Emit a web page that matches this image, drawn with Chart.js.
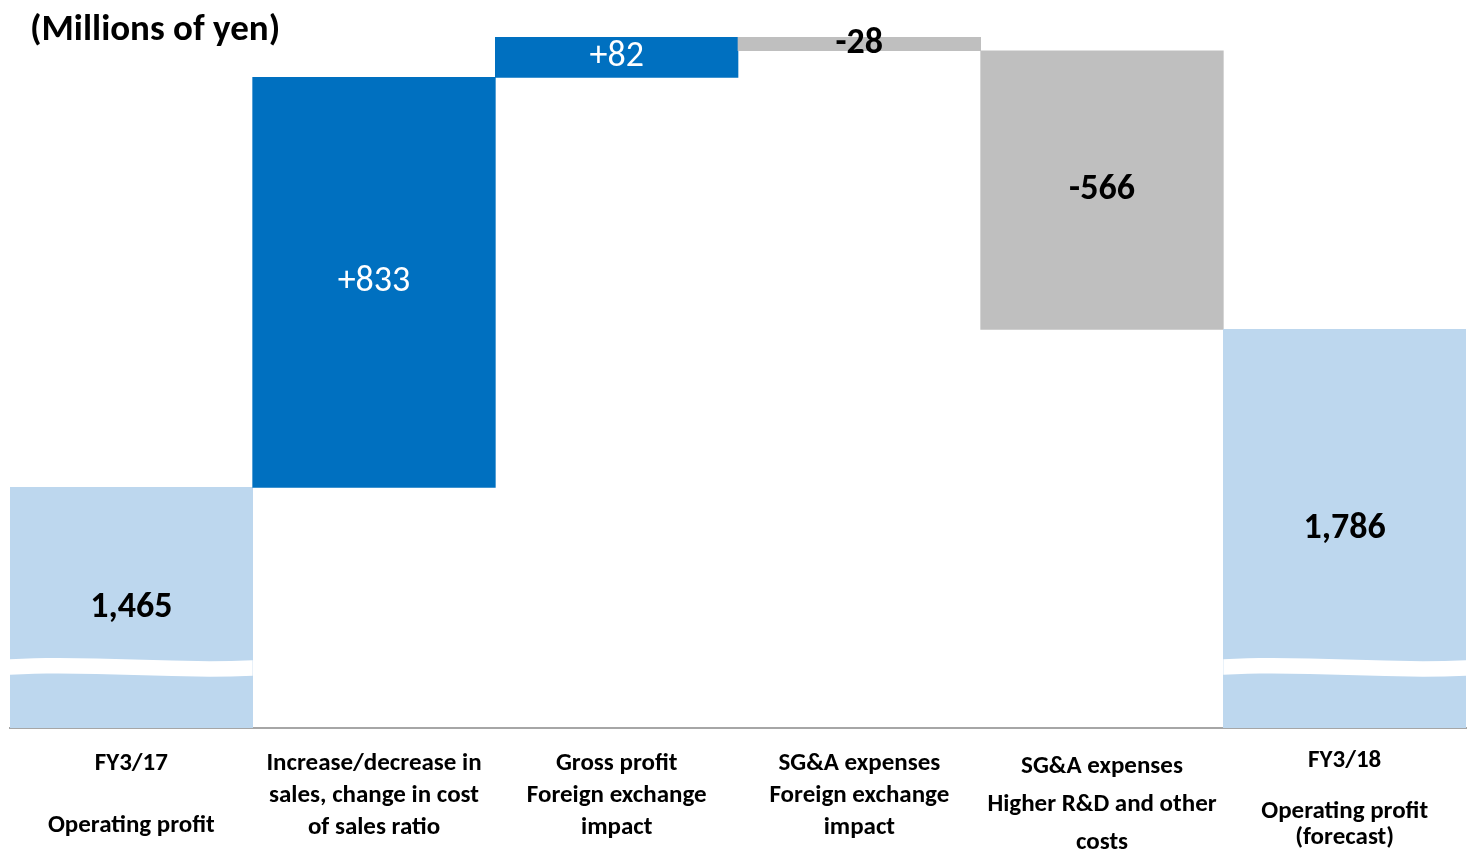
<!DOCTYPE html>
<html>
<head>
<meta charset="utf-8">
<script src="https://cdn.jsdelivr.net/npm/chart.js@4.4.0/dist/chart.umd.min.js"></script>
<style>
  body { margin: 0; background: #fff; }
  #wrap { position: relative; width: 1467px; height: 864px; }
  #unit { position: absolute; left: 30px; top: 5px; font: bold 37px Carlito, Lato, sans-serif; color: #000; }
</style>
</head>
<body>
<div id="wrap">
  <canvas id="bridgeChart"></canvas>
  <div id="unit">(Millions of yen)</div>
</div>
<script>
const FONT = 'Carlito, Lato, sans-serif';

const categories = [
  ['FY3/17', '', 'Operating profit'],
  ['Increase/decrease in', 'sales, change in cost', 'of sales ratio'],
  ['Gross profit', 'Foreign exchange', 'impact'],
  ['SG&A expenses', 'Foreign exchange', 'impact'],
  ['SG&A expenses', 'Higher R&D and other', 'costs'],
  ['FY3/18', '', 'Operating profit', '(forecast)']
];
const values = [1465, 833, 82, -28, -566, 1786];
const kinds = ['total', 'up', 'up', 'down', 'down', 'total'];
const valueLabels = ['1,465', '+833', '+82', '-28', '-566', '1,786'];

// axis is broken, the bottom is not zero
const axisMin = 976;
const axisMax = 2380;
const breakAt = 1100;

const tickLineHeights = [31, 32, 32, 32, 38, 25.5];
const colors = { total: '#BDD7EE', up: '#0070C0', down: '#BFBFBF' };

// floating bars for the bridge
let running = 0;
const bars = values.map((v, i) => {
  if (kinds[i] === 'total') {
    running = v;
    return [axisMin, v];
  }
  const from = running;
  running += v;
  return [from, running];
});

// white wavy break on the total bars + value labels
const breakAndLabels = {
  id: 'breakAndLabels',
  afterDatasetsDraw(chart) {
    const ctx = chart.ctx;
    const yScale = chart.scales.y;
    chart.getDatasetMeta(0).data.forEach((bar, i) => {
      const w = bar.width;
      const left = bar.x - w / 2;
      const right = bar.x + w / 2;
      if (kinds[i] === 'total') {
        const c = yScale.getPixelForValue(breakAt);
        const t = 15.5;
        ctx.save();
        ctx.fillStyle = '#fff';
        ctx.beginPath();
        ctx.moveTo(left, c - 7.7);
        ctx.bezierCurveTo(left + w * 0.33, c - 12, left + w * 0.67, c - 3, right, c - 6.7);
        ctx.lineTo(right, c - 6.7 + t);
        ctx.bezierCurveTo(left + w * 0.67, c - 3 + t, left + w * 0.33, c - 12 + t, left, c - 7.7 + t);
        ctx.closePath();
        ctx.fill();
        ctx.restore();
      }
      const cy = (bar.y + bar.base) / 2;
      ctx.save();
      ctx.textAlign = 'center';
      ctx.textBaseline = 'middle';
      if (kinds[i] === 'up') {
        ctx.fillStyle = '#fff';
        ctx.font = '36px ' + FONT;
      } else {
        ctx.fillStyle = '#000';
        ctx.font = 'bold 36px ' + FONT;
      }
      ctx.fillText(valueLabels[i], bar.x, cy);
      ctx.restore();
    });
  }
};

const ctx = document.getElementById('bridgeChart').getContext('2d');
new Chart(ctx, {
  type: 'bar',
  data: {
    labels: categories,
    datasets: [{
      data: bars,
      backgroundColor: kinds.map(k => colors[k]),
      borderWidth: 0,
      borderSkipped: false,
      barPercentage: 1,
      categoryPercentage: 1
    }]
  },
  options: {
    responsive: true,
    maintainAspectRatio: false,
    animation: false,
    events: [],
    layout: { padding: { left: 10, right: 1, top: 37, bottom: 0 } },
    plugins: {
      legend: { display: false },
      tooltip: { enabled: false }
    },
    scales: {
      x: {
        z: 1,
        grid: { display: false, drawTicks: false },
        border: { color: '#A6A6A6', width: 2 },
        ticks: {
          color: '#000',
          padding: 20,
          maxRotation: 0,
          autoSkip: false,
          font: c => ({ family: FONT, size: 25, weight: 'bold', lineHeight: tickLineHeights[c.index] + 'px' })
        },
        afterFit: s => { s.height = 136; }
      },
      y: {
        display: false,
        min: axisMin,
        max: axisMax
      }
    }
  },
  plugins: [breakAndLabels]
});
</script>
</body>
</html>
